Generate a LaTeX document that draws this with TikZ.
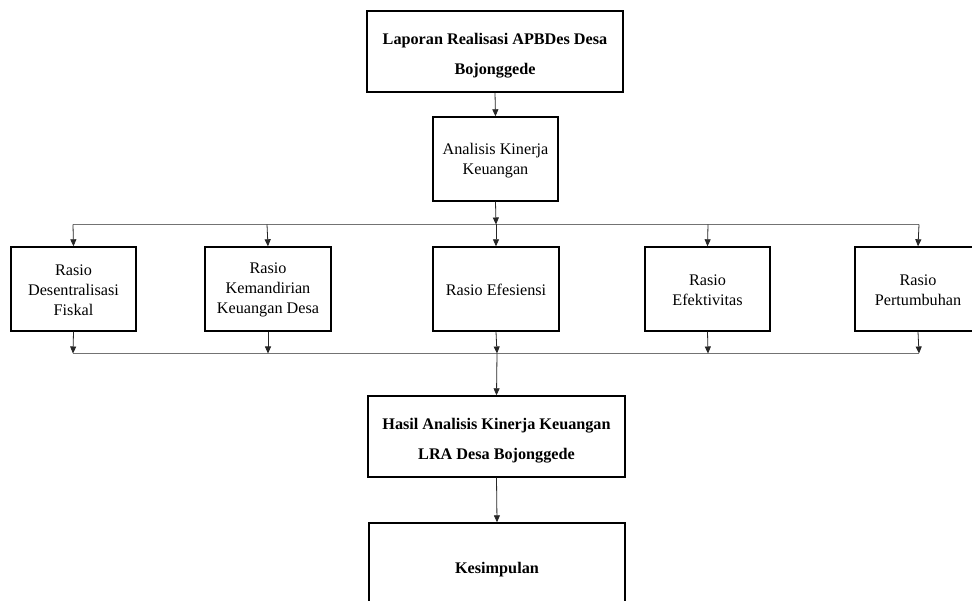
\documentclass[tikz,border=0pt]{standalone}
\usepackage{fontspec}
\setmainfont{Liberation Serif}
\usetikzlibrary{arrows.meta}
\newcommand{\lowerby}[1]{\rule{0pt}{#1}}
\begin{document}
\begin{tikzpicture}[x=1pt,y=-1pt,
  box/.style={draw=black,line width=1.4pt,align=center,inner sep=0pt,
    font=\fontsize{16.2}{20}\selectfont},
  boldbox/.style={box,font=\fontsize{16.2}{30}\selectfont\bfseries},
  conn/.style={line width=0.8pt,draw=black!85},
  hline/.style={line width=0.8pt,draw=black!55},
  arr/.style={conn,-{Triangle[length=7pt,width=6pt]}}]
\useasboundingbox (0,0) rectangle (972,601);
\fill[white] (0,0) rectangle (972,601);
\node[boldbox,minimum width=256pt,minimum height=81pt] (top) at (495,51.5) {\lowerby{19.5pt}Laporan Realisasi APBDes Desa\\Bojonggede};
\node[box,minimum width=125pt,minimum height=84pt] (anal) at (495.5,159) {\lowerby{14pt}Analisis Kinerja\\Keuangan};
\node[box,minimum width=125pt,minimum height=84pt] (r1) at (73.5,289) {\lowerby{13pt}Rasio\\Desentralisasi\\Fiskal};
\node[box,minimum width=126pt,minimum height=84pt] (r2) at (268,289) {\lowerby{13pt}Rasio\\Kemandirian\\Keuangan Desa};
\node[box,minimum width=126pt,minimum height=84pt] (r3) at (496,289) {\lowerby{14pt}Rasio Efesiensi};
\node[box,minimum width=125pt,minimum height=84pt] (r4) at (707.5,289) {\lowerby{13pt}Rasio\\Efektivitas};
\node[box,minimum width=126pt,minimum height=84pt] (r5) at (918,289) {\lowerby{13pt}Rasio\\Pertumbuhan};
\node[boldbox,minimum width=257pt,minimum height=81pt] (hasil) at (496.5,436.5) {\lowerby{19.5pt}Hasil Analisis Kinerja Keuangan\\LRA Desa Bojonggede};
\node[boldbox,minimum width=256pt,minimum height=88pt] (kes) at (497,567) {\lowerby{15.5pt}Kesimpulan};
% top split
\coordinate (sL) at (73,224.5);
\coordinate (sR) at (919,224.5);
\coordinate (sM) at (496,224.5);
\coordinate (s1) at (73,224.5);
\coordinate (s2) at (267,224.5);
\coordinate (s4) at (708,224.5);
\coordinate (s5) at (919,224.5);
% bottom merge
\coordinate (mL) at (73,353.5);
\coordinate (mR) at (919,353.5);
\coordinate (m1) at (73,353.5);
\coordinate (m2) at (268,353.5);
\coordinate (m3) at (497,353.5);
\coordinate (m4) at (708,353.5);
\coordinate (m5) at (919,353.5);
\draw[hline] (sL) -- (sR);
\draw[hline] (mL) -- (mR);
\draw[arr] (top.south) -- (anal.north);
\draw[arr] (anal.south) -- (sM);
\draw[arr] (s1) -- (r1.north);
\draw[arr] (s2) -- (r2.north);
\draw[arr] (sM) -- (r3.north);
\draw[arr] (s4) -- (r4.north);
\draw[arr] (s5) -- (r5.north);
\draw[arr] (r1.south) -- (m1);
\draw[arr] (r2.south) -- (m2);
\draw[arr] (r3.south) -- (m3);
\draw[arr] (r4.south) -- (m4);
\draw[arr] (r5.south) -- (m5);
\draw[arr] (m3) -- (hasil.north);
\draw[arr] (hasil.south) -- (kes.north);
\end{tikzpicture}
\end{document}
